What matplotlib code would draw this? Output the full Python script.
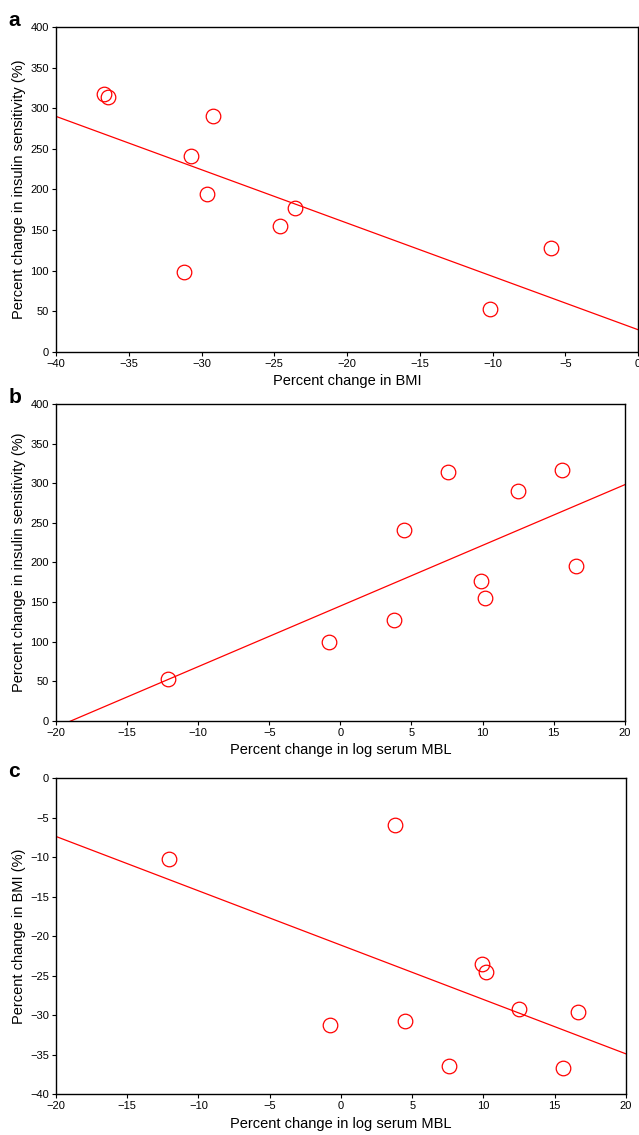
import numpy as np
import matplotlib
matplotlib.use("Agg")
import matplotlib.pyplot as plt

plt.rcParams['font.family'] = ['Liberation Sans', 'DejaVu Sans']

# one entry per subject
mbl_change = [-12.1, -0.8, 3.8, 4.5, 7.6, 9.9, 10.2, 12.5, 15.6, 16.6]
bmi_change = [-10.2, -31.2, -6.0, -30.7, -36.4, -23.6, -24.6, -29.2, -36.7, -29.6]
ins_change = [53, 99, 128, 241, 314, 177, 155, 290, 317, 195]

ins_label = "Percent change in insulin sensitivity (%)"
bmi_label = "Percent change in BMI"
mbl_label = "Percent change in log serum MBL"

fig = plt.figure(figsize=(6.39, 11.35), dpi=100)

panels = [
    # letter, x, y, xlim, ylim, xticks, yticks, xlabel, ylabel, axes rect
    ("a", bmi_change, ins_change, (-40, 0), (0, 400), np.arange(-40, 1, 5), np.arange(0, 401, 50),
     bmi_label, ins_label, [0.0876, 0.6899, 0.911, 0.2863]),
    ("b", mbl_change, ins_change, (-20, 20), (0, 400), np.arange(-20, 21, 5), np.arange(0, 401, 50),
     mbl_label, ins_label, [0.0876, 0.3648, 0.890, 0.2793]),
    ("c", mbl_change, bmi_change, (-20, 20), (-40, 0), np.arange(-20, 21, 5), np.arange(-40, 1, 5),
     mbl_label, bmi_label + " (%)", [0.0876, 0.0361, 0.892, 0.2784]),
]

for letter, x, y, xlim, ylim, xt, yt, xl, yl, rect in panels:
    ax = fig.add_axes(rect)
    x = np.array(x)
    y = np.array(y)
    ax.plot(x, y, 'o', mfc='none', mec='red', ms=10.5, mew=0.9, clip_on=False, zorder=3)

    # least squares fit line across the whole x range
    slope, icpt = np.polyfit(x, y, 1)
    xx = np.array(xlim, dtype=float)
    ax.plot(xx, slope * xx + icpt, color='red', lw=0.9)

    ax.set_xlim(*xlim)
    ax.set_ylim(*ylim)
    ax.set_xticks(xt)
    ax.set_yticks(yt)
    ax.tick_params(direction='out', length=3, width=0.8, labelsize=8, pad=2)
    ax.set_xlabel(xl, fontsize=10.5, labelpad=4)
    ax.set_ylabel(yl, fontsize=10.5, labelpad=3)
    for s in ax.spines.values():
        s.set_linewidth(1.0)
    fig.text(0.013, rect[1] + rect[3] + 0.0005, letter, fontsize=15, fontweight='bold',
             ha='left', va='baseline')

fig.savefig("out.png", dpi=100)
